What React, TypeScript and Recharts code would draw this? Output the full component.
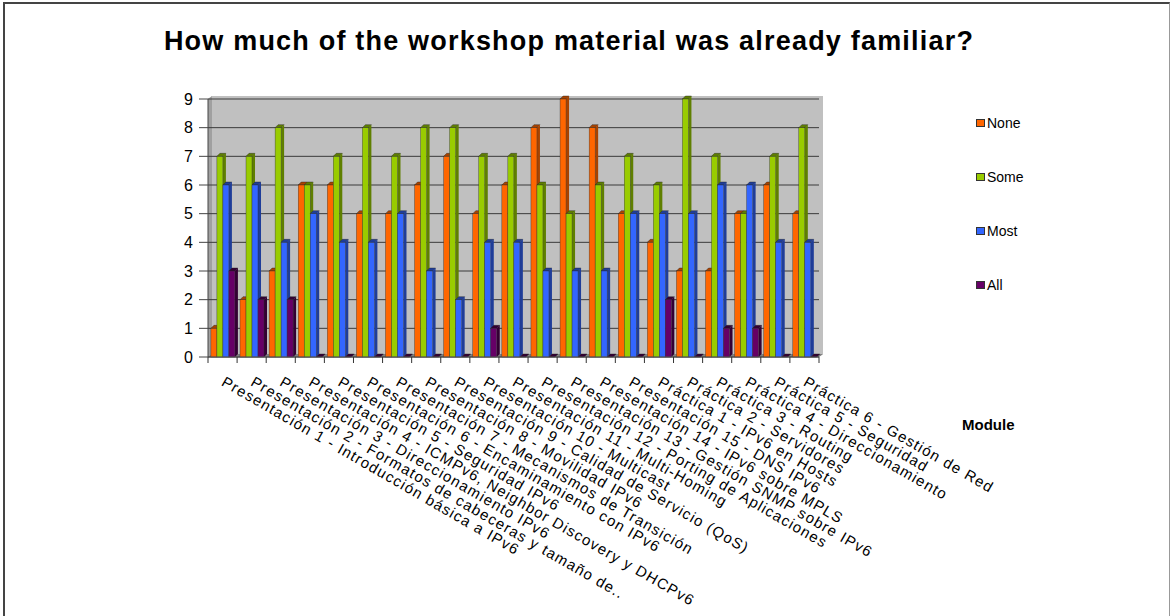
import { Bar, BarChart, CartesianGrid, XAxis, YAxis } from "recharts";

const categories = [
  "Presentación 1 - Introducción básica a IPv6",
  "Presentación 2 - Formatos de cabeceras y tamaño de..",
  "Presentación 3 - Direccionamiento IPv6",
  "Presentación 4 - ICMPv6, Neighbor Discovery y DHCPv6",
  "Presentación 5 - Seguridad IPv6",
  "Presentación 6 - Encaminamiento con IPv6",
  "Presentación 7 - Mecanismos de Transición",
  "Presentación 8 - Movilidad IPv6",
  "Presentación 9 - Calidad de Servicio (QoS)",
  "Presentación 10 - Multicast",
  "Presentación 11 - Multi-Homing",
  "Presentación 12 - Porting de Aplicaciones",
  "Presentación 13 - Gestión SNMP sobre IPv6",
  "Presentación 14 - IPv6 sobre MPLS",
  "Presentación 15 - DNS IPv6",
  "Práctica 1 - IPv6 en Hosts",
  "Práctica 2 - Servidores",
  "Práctica 3 - Routing",
  "Práctica 4 - Direccionamiento",
  "Práctica 5 - Seguridad",
  "Práctica 6 - Gestión de Red",
];
const noneValues = [1, 2, 3, 6, 6, 5, 5, 6, 7, 5, 6, 8, 9, 8, 5, 4, 3, 3, 5, 6, 5];
const someValues = [7, 7, 8, 6, 7, 8, 7, 8, 8, 7, 7, 6, 5, 6, 7, 6, 9, 7, 5, 7, 8];
const mostValues = [6, 6, 4, 5, 4, 4, 5, 3, 2, 4, 4, 3, 3, 3, 5, 5, 5, 6, 6, 4, 4];
const allValues = [3, 2, 2, 0, 0, 0, 0, 0, 0, 1, 0, 0, 0, 0, 0, 2, 0, 1, 1, 0, 0];
const yTicks = [0, 1, 2, 3, 4, 5, 6, 7, 8, 9];

const series = [
  { key: "None", color: "#ff6600", side: "#a84300" },
  { key: "Some", color: "#99cc00", side: "#5f7f00" },
  { key: "Most", color: "#3366ff", side: "#1f3d99" },
  { key: "All", color: "#660066", side: "#330033" },
];

const data = categories.map((name, i) => ({
  name,
  None: noneValues[i],
  Some: someValues[i],
  Most: mostValues[i],
  All: allValues[i],
}));

const font = "'Liberation Sans', Arial, sans-serif";
const PLOT_LEFT = 208;
const PLOT_RIGHT = 819;
const PLOT_TOP = 99;
const PLOT_BOTTOM = 357;
const band = (PLOT_RIGHT - PLOT_LEFT) / categories.length;
const depth = 3;

function Bar3D(props: any) {
  const { x, y, width, height, fill, side } = props;
  const d = depth;
  const h = Math.max(height, 0);
  return (
    <g>
      <polygon
        points={`${x},${y} ${x + d},${y - d} ${x + width + d},${y - d} ${x + width},${y}`}
        fill={side}
        stroke="#222"
        strokeWidth={0.4}
      />
      {h > 0 && (
        <>
          <polygon
            points={`${x + width},${y} ${x + width + d},${y - d} ${x + width + d},${y + h - d} ${x + width},${y + h}`}
            fill={side}
          />
          <rect x={x} y={y} width={width} height={h} fill={fill} stroke="#333" strokeWidth={0.4} />
        </>
      )}
    </g>
  );
}

function XTick(props: any) {
  const { x, y, payload, index } = props;
  const left = x - band / 2;
  return (
    <g>
      <line x1={left} y1={y} x2={left} y2={y + 6} stroke="#333" />
      {index === categories.length - 1 && (
        <line x1={x + band / 2} y1={y} x2={x + band / 2} y2={y + 6} stroke="#333" />
      )}
      <text
        x={0}
        y={0}
        transform={`translate(${x - 2},${y + 28}) rotate(30)`}
        textAnchor="start"
        fontSize={15}
        letterSpacing={1.2}
        fontFamily={font}
        fill="#000"
      >
        {payload.value}
      </text>
    </g>
  );
}

export default function App() {
  return (
    <div style={{ position: "absolute", left: 0, top: 0, width: 1170, height: 616, background: "#fff", overflow: "hidden" }}>
      <div
        style={{
          position: "absolute",
          left: 3,
          top: 2,
          width: 1164,
          height: 640,
          borderLeft: "2px solid #444",
          borderTop: "2px solid #444",
          borderRight: "1px solid #999",
        }}
      />
      <svg width={1170} height={616} style={{ position: "absolute", left: 0, top: 0 }}>
        <polygon
          points={`${PLOT_LEFT},${PLOT_TOP} ${PLOT_LEFT + 4},${PLOT_TOP - 3} ${PLOT_RIGHT + 4},${PLOT_TOP - 3} ${PLOT_RIGHT + 4},${PLOT_BOTTOM - 3} ${PLOT_RIGHT},${PLOT_BOTTOM} ${PLOT_LEFT},${PLOT_BOTTOM}`}
          fill="#c0c0c0"
        />
        <polygon
          points={`${PLOT_LEFT},${PLOT_TOP} ${PLOT_LEFT + 4},${PLOT_TOP - 3} ${PLOT_LEFT + 4},${PLOT_BOTTOM - 3} ${PLOT_LEFT},${PLOT_BOTTOM}`}
          fill="#a0a0a0"
        />
        <polygon
          points={`${PLOT_LEFT},${PLOT_BOTTOM} ${PLOT_LEFT + 4},${PLOT_BOTTOM - 3} ${PLOT_RIGHT + 4},${PLOT_BOTTOM - 3} ${PLOT_RIGHT},${PLOT_BOTTOM}`}
          fill="#808080"
        />
      </svg>
      <div
        style={{
          position: "absolute",
          left: 0,
          width: 1138,
          top: 26,
          textAlign: "center",
          fontFamily: font,
          fontWeight: "bold",
          fontSize: 27,
          letterSpacing: 1.2,
          color: "#000",
          whiteSpace: "nowrap",
        }}
      >
        How much of the workshop material was already familiar?
      </div>
      <div
        style={{
          position: "absolute",
          left: 962,
          top: 416,
          fontFamily: font,
          fontWeight: "bold",
          fontSize: 15,
          color: "#000",
        }}
      >
        Module
      </div>
      <div style={{ position: "absolute", left: 976, top: 96, fontFamily: font, fontSize: 14, color: "#000" }}>
        {series.map((s) => (
          <div key={s.key} style={{ display: "flex", alignItems: "center", height: 54 }}>
            <span
              style={{
                width: 7,
                height: 6,
                background: s.color,
                border: "1px solid #333",
                marginRight: 2,
              }}
            />
            {s.key}
          </div>
        ))}
      </div>
      <div style={{ position: "absolute", left: 0, top: 0 }}>
        <BarChart
          width={1170}
          height={616}
          data={data}
          margin={{ top: PLOT_TOP, right: 1170 - PLOT_RIGHT, bottom: 0, left: PLOT_LEFT - 40 }}
          barCategoryGap="10%"
          barGap={0}
        >
          <CartesianGrid horizontal vertical={false} stroke="#3a3a3a" />
          <XAxis
            dataKey="name"
            interval={0}
            height={616 - PLOT_BOTTOM}
            axisLine={{ stroke: "#555" }}
            tickLine={false}
            tickSize={0}
            tickMargin={0}
            tick={<XTick />}
          />
          <YAxis
            width={40}
            domain={[0, 9]}
            ticks={yTicks}
            interval={0}
            axisLine={{ stroke: "#444" }}
            tickLine={{ stroke: "#444" }}
            tickSize={9}
            tickMargin={6}
            tick={{ fontSize: 16, fontFamily: font, fill: "#000" }}
          />
          {series.map((s) => (
            <Bar
              key={s.key}
              dataKey={s.key}
              fill={s.color}
              isAnimationActive={false}
              shape={(p: any) => <Bar3D {...p} side={s.side} />}
            />
          ))}
        </BarChart>
      </div>
    </div>
  );
}
